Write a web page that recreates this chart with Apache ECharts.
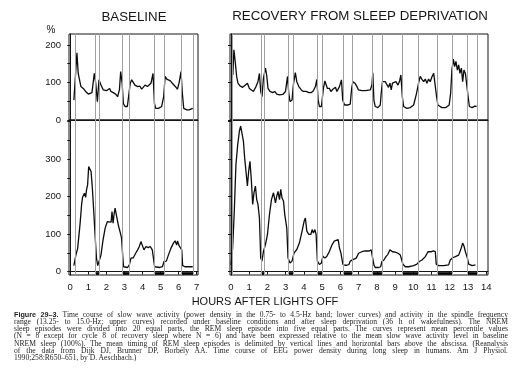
<!DOCTYPE html>
<html>
<head>
<meta charset="utf-8">
<script src="https://cdn.jsdelivr.net/npm/echarts@6/dist/echarts.min.js"></script>
<style>
  html, body { margin:0; padding:0; background:#fff; }
  #chart { position:absolute; left:0; top:0; width:525px; height:384px; }
  #cap { position:absolute; left:14px; top:310.6px; width:494px; font-family:'Liberation Serif', serif; font-size:7.6px; line-height:7.25px; color:#1e1e1e; }
  #cap .l { text-align:justify; text-align-last:justify; white-space:normal; }
  #cap .last { text-align:left; text-align-last:left; }
  #cap b { font-family:'Liberation Sans', sans-serif; font-size:7.2px; }
</style>
</head>
<body>
<div id="chart"></div>
<div id="cap">
  <div class="l"><b>Figure 29–3.</b> Time course of slow wave activity (power density in the 0.75- to 4.5-Hz band; lower curves) and activity in the spindle frequency</div>
  <div class="l">range (13.25- to 15.0-Hz; upper curves) recorded under baseline conditions and after sleep deprivation (36 h of wakefulness). The NREM</div>
  <div class="l">sleep episodes were divided into 20 equal parts, the REM sleep episode into five equal parts. The curves represent mean percentile values</div>
  <div class="l">(N = 8 except for cycle 8 of recovery sleep where N = 6) and have been expressed relative to the mean slow wave activity level in baseline</div>
  <div class="l">NREM sleep (100%). The mean timing of REM sleep episodes is delimited by vertical lines and horizontal bars above the abscissa. (Reanalysis</div>
  <div class="l">of the data from Dijk DJ, Brunner DP, Borbély AA. Time course of EEG power density during long sleep in humans. Am J Physiol.</div>
  <div class="l last">1990;258:R650–651, by D. Aeschbach.)</div>
</div>
<script>
// ---- data ----
const panelTitles = ['BASELINE', 'RECOVERY FROM SLEEP DEPRIVATION'];
const xAxisTitle = 'HOURS AFTER LIGHTS OFF';
const yUnit = '%';
const xTicksBaseline = [0,1,2,3,4,5,6,7];
const xTicksRecovery = [0,1,2,3,4,5,6,7,8,9,10,11,12,13,14];
const upperYTicks = [0,50,100,150,200];
const upperYLabels = [0,100,200];
const lowerYTicks = [0,50,100,150,200,250,300,350,400];
const lowerYLabels = [0,100,200,300];

const baselineOnset = 0.28;
const baselineREM = [[1.41,1.59],[2.87,3.27],[4.63,5.2],[6.17,6.83]];
const recoveryOnset = 0.05;
const recoveryREM = [[1.64,1.83],[3.14,3.43],[4.73,5.01],[6.15,6.64],[7.77,8.28],[9.42,10.27],[11.3,12.13],[12.97,13.53]];

// spindle frequency activity (upper curves), [hour, %]
const baselineSpindle = [[0.2,53],[0.37,179],[0.44,124],[0.59,89],[0.72,84],[0.85,76],[1.0,69],[1.11,64],[1.2,73],[1.33,124],[1.41,98],[1.5,49],[1.59,107],[1.7,93],[1.83,80],[1.92,76],[2.0,78],[2.1,73],[2.18,84],[2.25,76],[2.38,73],[2.51,69],[2.62,62],[2.72,80],[2.79,129],[2.87,98],[2.94,44],[3.03,36],[3.16,36],[3.25,40],[3.32,98],[3.4,107],[3.49,109],[3.58,93],[3.73,89],[3.86,90],[3.95,82],[4.04,84],[4.14,93],[4.27,89],[4.36,84],[4.47,98],[4.58,124],[4.66,44],[4.73,31],[4.88,31],[5.06,36],[5.17,62],[5.25,116],[5.34,109],[5.43,111],[5.54,104],[5.65,98],[5.8,90],[5.93,82],[6.02,98],[6.13,129],[6.2,73],[6.28,31],[6.45,27],[6.58,27],[6.78,31]];
const recoverySpindle = [[0.1,120],[0.16,187],[0.24,151],[0.31,116],[0.38,98],[0.49,91],[0.64,87],[0.79,93],[0.9,98],[1.01,84],[1.12,80],[1.23,76],[1.37,89],[1.48,102],[1.56,124],[1.63,76],[1.7,62],[1.78,111],[1.89,138],[1.96,118],[2.03,84],[2.14,76],[2.29,73],[2.4,76],[2.51,69],[2.66,67],[2.84,68],[2.99,76],[3.1,116],[3.17,71],[3.24,49],[3.35,53],[3.42,93],[3.53,126],[3.61,102],[3.72,89],[3.86,80],[3.97,76],[4.12,76],[4.27,73],[4.41,73],[4.52,78],[4.63,89],[4.71,108],[4.78,53],[4.85,36],[4.96,36],[5.07,84],[5.15,104],[5.22,107],[5.29,84],[5.4,84],[5.48,76],[5.59,82],[5.66,78],[5.73,87],[5.81,76],[5.95,89],[6.06,107],[6.13,53],[6.23,40],[6.43,40],[6.54,42],[6.62,84],[6.69,102],[6.8,98],[6.91,89],[6.99,80],[7.18,78],[7.36,78],[7.64,80],[7.73,93],[7.78,126],[7.84,53],[7.91,36],[8.06,33],[8.19,40],[8.24,71],[8.31,102],[8.39,98],[8.46,102],[8.55,107],[8.64,87],[8.72,98],[8.79,80],[8.86,98],[8.94,93],[9.05,102],[9.16,93],[9.25,104],[9.32,120],[9.4,62],[9.47,36],[9.65,31],[9.84,33],[10.02,40],[10.11,44],[10.18,71],[10.29,98],[10.38,116],[10.47,109],[10.57,102],[10.66,109],[10.75,98],[10.84,109],[10.93,102],[11.03,116],[11.12,124],[11.21,120],[11.28,62],[11.35,40],[11.57,33],[11.79,33],[11.97,40],[12.05,71],[12.12,133],[12.2,162],[12.27,142],[12.34,156],[12.42,133],[12.49,147],[12.56,124],[12.64,138],[12.71,102],[12.78,133],[12.86,124],[12.93,129],[13.01,62],[13.08,36],[13.23,33],[13.37,37],[13.48,36]];

// slow wave activity (lower curves), [hour, %]
const baselineSWA = [[0.2,16],[0.31,44],[0.41,62],[0.54,126],[0.63,180],[0.68,198],[0.74,194],[0.79,209],[0.85,198],[0.9,218],[0.96,231],[1.02,280],[1.09,284],[1.15,267],[1.22,225],[1.3,160],[1.37,100],[1.45,36],[1.52,16],[1.61,18],[1.7,44],[1.8,80],[1.93,116],[2.05,133],[2.16,135],[2.26,132],[2.31,160],[2.37,129],[2.42,151],[2.48,169],[2.53,173],[2.59,164],[2.66,124],[2.75,107],[2.84,89],[2.9,44],[2.95,13],[3.03,11],[3.17,11],[3.27,18],[3.36,36],[3.49,37],[3.62,49],[3.73,58],[3.82,67],[3.91,80],[3.99,84],[4.08,58],[4.19,67],[4.31,64],[4.43,67],[4.54,58],[4.62,53],[4.67,13],[4.78,9],[4.96,11],[5.1,13],[5.19,27],[5.32,28],[5.43,44],[5.57,62],[5.71,76],[5.8,82],[5.89,71],[5.94,82],[6.02,69],[6.09,67],[6.17,58],[6.22,16],[6.35,13],[6.54,13],[6.78,13]];
const recoverySWA = [[0.0,18],[0.09,63],[0.18,161],[0.27,285],[0.37,339],[0.46,374],[0.53,388],[0.6,383],[0.68,348],[0.75,303],[0.82,268],[0.9,228],[0.97,268],[1.04,294],[1.12,241],[1.19,179],[1.26,210],[1.34,228],[1.41,192],[1.48,179],[1.56,143],[1.63,36],[1.7,28],[1.78,54],[1.89,72],[2.0,99],[2.11,152],[2.22,192],[2.33,210],[2.44,183],[2.51,201],[2.58,214],[2.66,192],[2.73,219],[2.8,196],[2.88,188],[2.95,152],[3.06,116],[3.13,36],[3.24,23],[3.35,28],[3.46,50],[3.61,59],[3.75,76],[3.9,108],[4.01,134],[4.08,143],[4.16,108],[4.27,99],[4.38,99],[4.45,112],[4.52,103],[4.6,112],[4.67,99],[4.74,28],[4.85,19],[4.96,23],[5.04,41],[5.15,36],[5.26,41],[5.4,54],[5.55,72],[5.66,81],[5.77,83],[5.88,85],[5.95,63],[6.03,50],[6.14,19],[6.25,17],[6.36,17],[6.47,19],[6.54,28],[6.69,32],[6.87,36],[7.0,49],[7.18,53],[7.36,55],[7.45,60],[7.58,55],[7.69,58],[7.77,53],[7.84,18],[7.91,11],[8.1,11],[8.21,13],[8.28,27],[8.39,31],[8.5,40],[8.61,46],[8.72,58],[8.79,53],[8.86,53],[9.01,52],[9.16,49],[9.29,44],[9.38,44],[9.43,20],[9.56,13],[9.75,13],[10.02,16],[10.2,20],[10.33,27],[10.48,31],[10.66,40],[10.81,53],[10.88,58],[10.99,53],[11.1,55],[11.21,53],[11.26,20],[11.39,16],[11.67,16],[11.94,18],[12.03,31],[12.16,37],[12.31,40],[12.49,44],[12.6,58],[12.71,76],[12.79,67],[12.86,53],[12.97,36],[13.04,20],[13.23,16],[13.41,18]];

// ---- chart ----
const FONT = "'Liberation Sans', Arial, sans-serif";
const INK = '#151515';
const chart = echarts.init(document.getElementById('chart'), null, {renderer:'canvas'});

const grids = [
  {left:69, top:34, width:129, height:86},   // baseline upper
  {left:69, top:120, width:129, height:155}, // baseline lower
  {left:230, top:34, width:258, height:86},  // recovery upper
  {left:230, top:120, width:258, height:155} // recovery lower
].map(g => Object.assign({show:true, borderColor:INK, borderWidth:1, backgroundColor:'transparent'}, g));

function xAx(gi, min, max, ticks, showLabels) {
  return {
    type:'value', gridIndex:gi, min:min, max:max,
    axisLine:{show:true, lineStyle:{color:INK, width:1}},
    axisTick:{show:showLabels, inside:false, length:3, customValues:ticks, lineStyle:{color:INK}},
    axisLabel:{show:showLabels, customValues:ticks, fontFamily:FONT, fontSize:9.5, color:INK, margin:7},
    splitLine:{show:false}
  };
}
function yAx(gi, min, max, ticks, labels) {
  return {
    type:'value', gridIndex:gi, min:min, max:max,
    axisLine:{show:true, lineStyle:{color:INK, width:1}},
    axisTick:{show:true, inside:false, length:3, customValues:ticks, lineStyle:{color:INK}},
    axisLabel:{show:!!labels, customValues:labels || [], fontFamily:FONT, fontSize:9.5, color:INK, margin:8},
    splitLine:{show:false}
  };
}

function remLines(onset, rem) {
  const vals = [onset];
  rem.forEach(r => { vals.push(r[0]); vals.push(r[1]); });
  return {
    silent:true, symbol:['none','none'], label:{show:false},
    lineStyle:{color:'#a0a0a0', width:1, type:'solid'},
    emphasis:{disabled:true},
    data: vals.map(v => ({xAxis:v}))
  };
}

function curve(name, gi, data, onset, rem) {
  return {
    name:name, type:'line', xAxisIndex:gi, yAxisIndex:gi, data:data,
    showSymbol:false, symbol:'none', smooth:false, animation:false,
    lineStyle:{color:'#0c0c0c', width:1.3},
    markLine: remLines(onset, rem)
  };
}

function bars(gi, rem) {
  return {
    type:'custom', xAxisIndex:gi, yAxisIndex:gi, data:rem, silent:true, animation:false,
    renderItem:function(params, api){
      const a = api.coord([api.value(0), -1.5]);
      const b = api.coord([api.value(1), -8.5]);
      return {type:'rect', shape:{x:a[0], y:a[1], width:b[0]-a[0], height:b[1]-a[1]}, style:{fill:'#000'}};
    }
  };
}

const option = {
  animation:false,
  backgroundColor:'#fff',
  grid: grids,
  xAxis: [
    xAx(0, -0.07, 7.07, xTicksBaseline, false),
    xAx(1, -0.07, 7.07, xTicksBaseline, true),
    xAx(2, -0.055, 14.1, xTicksRecovery, false),
    xAx(3, -0.055, 14.1, xTicksRecovery, true)
  ],
  yAxis: [
    yAx(0, 0, 229, upperYTicks, upperYLabels),
    yAx(1, -9, 404, lowerYTicks, lowerYLabels),
    yAx(2, 0, 229, upperYTicks, null),
    yAx(3, -9, 404, lowerYTicks, null)
  ],
  series: [
    curve('Baseline spindle', 0, baselineSpindle, baselineOnset, baselineREM),
    curve('Baseline SWA', 1, baselineSWA, baselineOnset, baselineREM),
    curve('Recovery spindle', 2, recoverySpindle, recoveryOnset, recoveryREM),
    curve('Recovery SWA', 3, recoverySWA, recoveryOnset, recoveryREM),
    bars(1, baselineREM),
    bars(3, recoveryREM)
  ],
  graphic: [
    {type:'text', x:134, y:17.5, style:{text:panelTitles[0], font:"13.3px "+FONT, fill:INK, align:'center', verticalAlign:'middle'}},
    {type:'text', x:360, y:16.5, style:{text:panelTitles[1], font:"13.3px "+FONT, fill:INK, align:'center', verticalAlign:'middle'}},
    {type:'text', x:51, y:30, style:{text:yUnit, font:"10px "+FONT, fill:INK, align:'center', verticalAlign:'middle'}},
    {type:'text', x:265, y:302, style:{text:xAxisTitle, font:"11px "+FONT, fill:INK, align:'center', verticalAlign:'middle'}}
  ]
};
chart.setOption(option);
</script>
</body>
</html>
